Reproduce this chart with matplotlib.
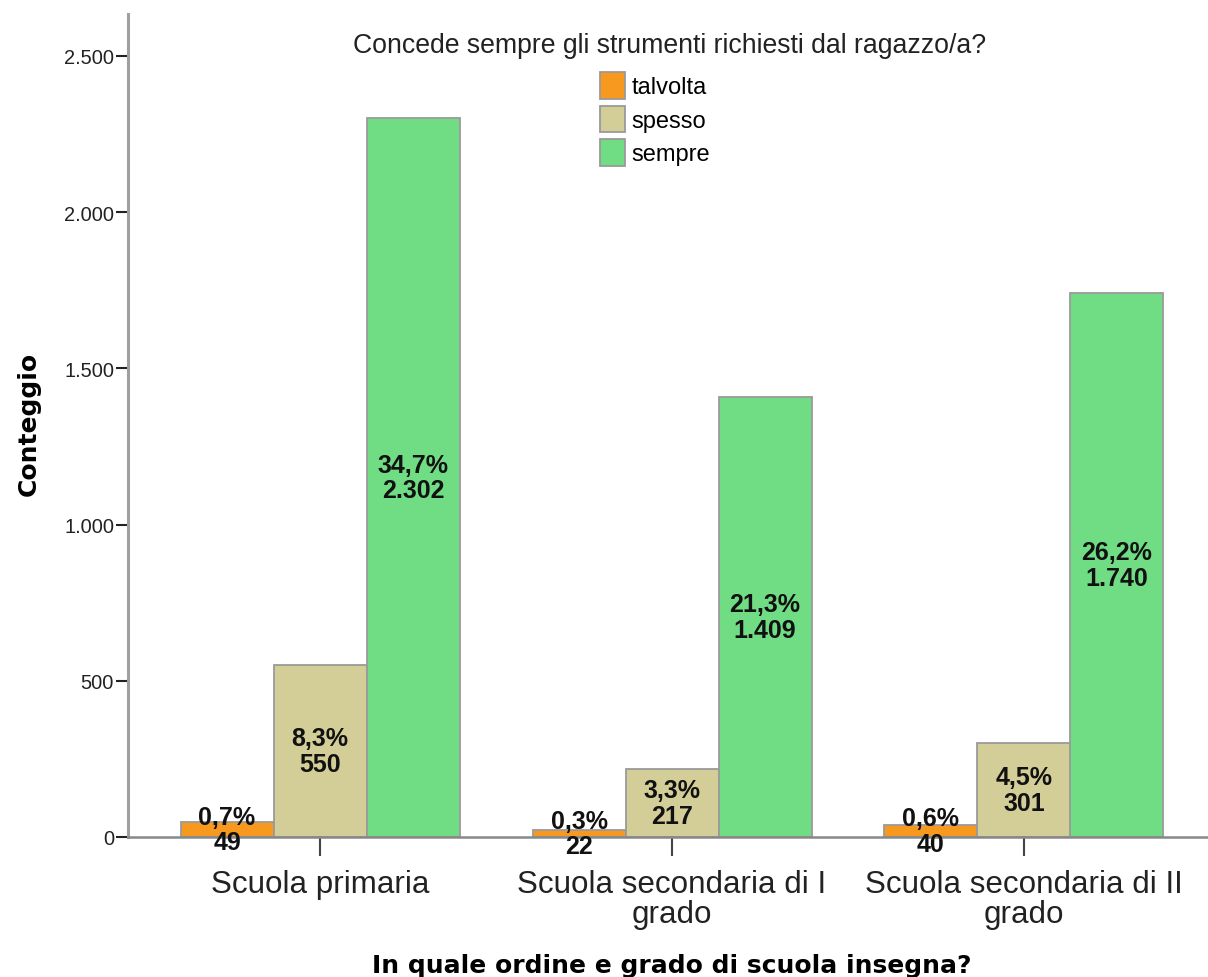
import numpy as np
import matplotlib
matplotlib.use('Agg')
import matplotlib.pyplot as plt
from matplotlib.patches import Patch

# data
schools = ['Scuola primaria', 'Scuola secondaria di I\ngrado', 'Scuola secondaria di II\ngrado']
answers = ['talvolta', 'spesso', 'sempre']
talvolta = [49, 22, 40]
spesso = [550, 217, 301]
sempre = [2302, 1409, 1740]

colors = ['#f7981f', '#d3ce97', '#70dc84']
edge = '#9a9a9a'

sans = ['Liberation Sans', 'DejaVu Sans']


def fmt_int(v):
    return '{:,}'.format(v).replace(',', '.')


def fmt_pct(v, tot):
    return ('%.1f%%' % (100.0 * v / tot)).replace('.', ',')


fig = plt.figure(figsize=(12.08, 9.78), dpi=100, facecolor='w')
ax = fig.add_axes([128 / 1208., 140 / 978., 1 - 128 / 1208., (838 - 15) / 978.])

series = [talvolta, spesso, sempre]
total = float(sum(sum(s) for s in series))
x = np.arange(len(schools))
width = 93 / 352.

for i, (vals, col) in enumerate(zip(series, colors)):
    pos = x + (i - 1) * width
    ax.bar(pos, vals, width=width, color=col, edgecolor=edge, linewidth=1.3, zorder=2)
    for p, v in zip(pos, vals):
        ax.text(p, v / 2.0, fmt_pct(v, total) + '\n' + fmt_int(v),
                ha='center', va='center', fontsize=18, fontweight='bold',
                family=sans, linespacing=1.08, color='#111111', zorder=3)

ax.set_xlim(-192 / 352., (1208 - 320) / 352.)
ax.set_ylim(0, 823 / 0.3124)

ax.set_yticks([0, 500, 1000, 1500, 2000, 2500])
ax.set_yticklabels([fmt_int(t) for t in [0, 500, 1000, 1500, 2000, 2500]],
                   family=sans, fontsize=14.4, color='#222222')
ax.set_xticks(x)
ax.set_xticklabels(schools, family=sans, fontsize=22.6, color='#222222',
                   linespacing=1.0)
ax.tick_params(axis='y', length=9, width=1.5, color='#222222', pad=1)
ax.tick_params(axis='x', length=14, width=1.5, color='#444444', pad=9)

for s in ['top', 'right']:
    ax.spines[s].set_visible(False)
ax.spines['left'].set_color('#a0a0a0')
ax.spines['left'].set_linewidth(2.2)
ax.spines['bottom'].set_color('#888888')
ax.spines['bottom'].set_linewidth(1.8)

ax.set_ylabel('Conteggio', fontsize=18, fontweight='bold', family='DejaVu Sans')
ax.yaxis.set_label_coords((41 - 128) / 1080., 0.503)
ax.set_xlabel('In quale ordine e grado di scuola insegna?', fontsize=18,
              fontweight='bold', family='DejaVu Sans')
ax.xaxis.set_label_coords((672 - 128) / 1080., (838 - 954) / 823.)

fig.text(670 / 1208., 1 - 46 / 978., 'Concede sempre gli strumenti richiesti dal ragazzo/a?',
         ha='center', va='center', fontsize=19.2, family=sans, color='#222222')

handles = [Patch(facecolor=c, edgecolor=edge, linewidth=1.3) for c in colors]
fig.legend(handles, answers, loc='upper left', bbox_to_anchor=(600 / 1208., 1 - 73 / 978.),
           frameon=False, prop={'family': sans, 'size': 17},
           handlelength=1.05, handleheight=1.35, handletextpad=0.3, labelspacing=0.3,
           borderaxespad=0, borderpad=0)

fig.savefig('out.png', dpi=100, facecolor='w')
plt.close(fig)
